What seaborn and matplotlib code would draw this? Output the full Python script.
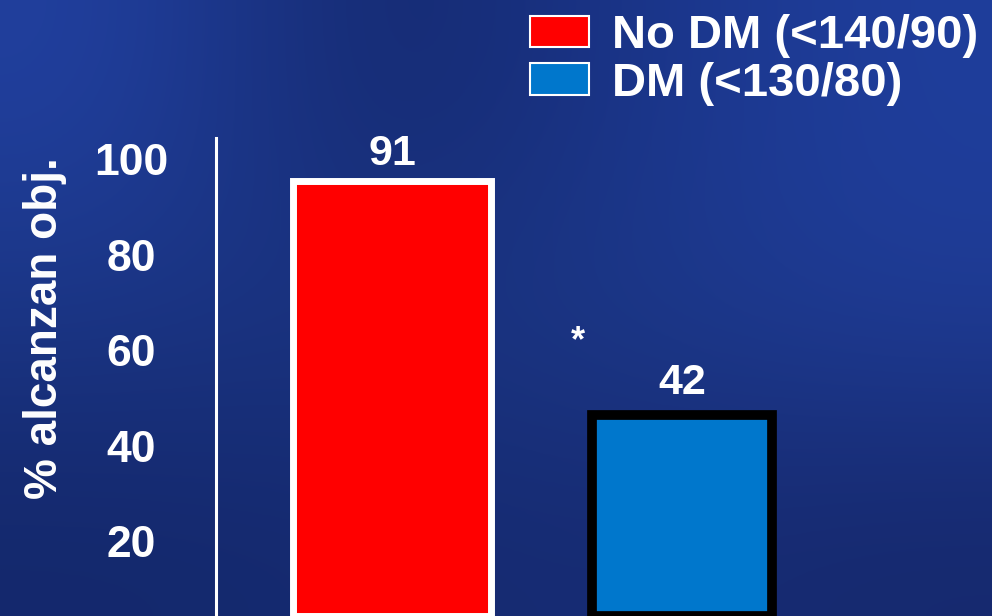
import numpy as np
import pandas as pd
import seaborn as sns
import matplotlib.pyplot as plt
import matplotlib.colors as mcolors
import matplotlib.transforms as mtransforms
from matplotlib.patches import Patch

# Data
grupos = ['No DM (<140/90)', 'DM (<130/80)']
pct_objetivo = [91, 42]
colores = ['#ff0000', '#0077cc']
bordes = ['white', 'black']
y_ticks = [20, 40, 60, 80, 100]

df = pd.DataFrame({'grupo': grupos, 'pct': pct_objetivo})

sns.set_style('white')
plt.rcParams['font.family'] = ['Liberation Sans', 'DejaVu Sans']
plt.rcParams['font.weight'] = 'bold'

fig = plt.figure(figsize=(9.92, 6.16), dpi=100)

# Dark blue slide background (smooth approximation of the texture)
bg = fig.add_axes([0, 0, 1, 1], zorder=0)
grid_hex = [['#21409f', '#14286c', '#1a3488', '#1f3e9c'],
            ['#1b3686', '#1a3380', '#1c3888', '#1f3c96'],
            ['#14286c', '#152a70', '#172c74', '#16296e']]
grid = np.array([[mcolors.to_rgb(c) for c in row] for row in grid_hex])
bg.imshow(grid, aspect='auto', interpolation='bicubic', extent=[0, 1, 0, 1])
bg.set_axis_off()

ax = fig.add_axes([216 / 992, 0, 776 / 992, 478 / 616], zorder=1)
ax.patch.set_alpha(0)

sns.barplot(data=df, x='grupo', y='pct', hue='grupo', palette=colores,
            width=0.66, legend=False, ax=ax, saturation=1)

anchos = [0.68, 0.62]
for bar, w, ec, lw in zip(ax.patches, anchos, bordes, [5, 7]):
    cx = bar.get_x() + bar.get_width() / 2
    bar.set_width(w)
    bar.set_x(cx - w / 2)
    bar.set_edgecolor(ec)
    bar.set_linewidth(lw)
    bar.set_clip_on(False)

for cont, pad in zip(ax.containers, [5, 9]):
    ax.bar_label(cont, padding=pad, color='white', fontsize=31, fontweight='bold')

ax.text(0.64, 57.3, '*', color='white', fontsize=26, fontweight='bold',
        ha='center', va='center')

ax.set_xlim(-0.607, 2.069)
ax.set_ylim(0, 100)
ax.set_xlabel('')
ax.set_xticks([])
ax.set_yticks(y_ticks)
ax.set_yticklabels([str(t) for t in y_ticks])
ax.tick_params(axis='y', length=0, pad=61, labelsize=32, labelcolor='white')
shift = mtransforms.ScaledTranslation(0, -21 / 100, fig.dpi_scale_trans)
for lab in ax.get_yticklabels():
    lab.set_ha('center')
    lab.set_fontweight('bold')
    lab.set_transform(lab.get_transform() + shift)

ax.set_ylabel('% alcanzan obj.', color='white', fontsize=33, fontweight='bold', va='center')
ax.yaxis.set_label_coords(-0.22, 0.602)

for s in ['top', 'right', 'bottom']:
    ax.spines[s].set_visible(False)
ax.spines['left'].set_color('white')
ax.spines['left'].set_linewidth(2.2)

handles = [Patch(facecolor=c, edgecolor='white', linewidth=1.5) for c in colores]
leg = fig.legend(handles, grupos, loc='upper left', bbox_to_anchor=(530 / 992, 1 - 14 / 616),
                 frameon=False, fontsize=34, handlelength=1.25, handleheight=0.66,
                 handletextpad=0.48, labelspacing=0.08, borderpad=0, borderaxespad=0)
for t in leg.get_texts():
    t.set_color('white')
    t.set_fontweight('bold')

fig.savefig('out.png', dpi=100)
